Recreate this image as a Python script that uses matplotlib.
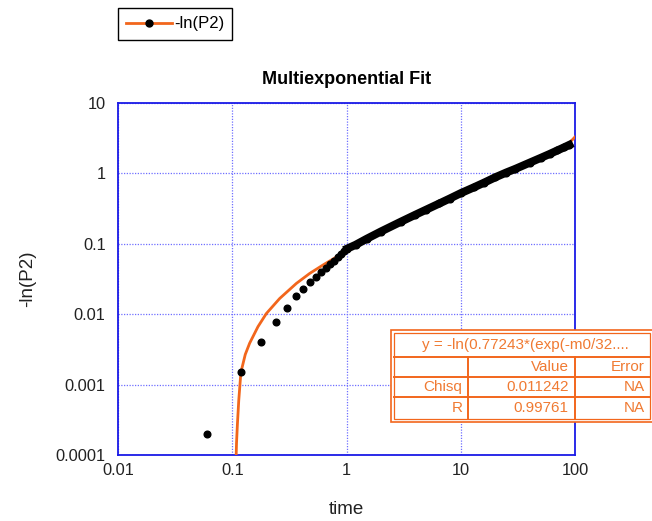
import matplotlib
matplotlib.use("Agg")
import matplotlib.pyplot as plt
from matplotlib.lines import Line2D
from matplotlib.patches import Rectangle

plt.rcParams['font.family'] = ['Liberation Sans', 'DejaVu Sans']

# measured points, sparse start (time step 0.06)
t_sparse = [0.06, 0.12, 0.18, 0.24, 0.30, 0.36, 0.42, 0.48, 0.54, 0.60, 0.66,
            0.72, 0.78, 0.84, 0.90, 0.96]
y_sparse = [0.0002, 0.0015, 0.004, 0.0078, 0.0124, 0.018, 0.023, 0.0284, 0.0337,
            0.040, 0.0458, 0.052, 0.058, 0.065, 0.072, 0.079]

# dense part (points so close they form a band)
t_dense = [1.02, 1.2, 1.5, 2, 3, 4, 5, 6.5, 8, 10, 13, 16, 20, 25, 30, 40, 50,
           60, 70, 80, 89]
y_dense = [0.086, 0.097, 0.118, 0.15, 0.207, 0.259, 0.307, 0.375, 0.44, 0.525,
           0.634, 0.74, 0.88, 1.03, 1.16, 1.42, 1.66, 1.89, 2.12, 2.34, 2.54]

# fitted curve
t_fit = [0.1068, 0.1075, 0.109, 0.111, 0.114, 0.119, 0.13, 0.142, 0.168, 0.199,
         0.26, 0.364, 0.475, 0.62, 0.8, 0.93, 1.02, 1.2, 1.5, 2, 3, 4, 5, 6.5,
         8, 10, 13, 16, 20, 25, 30, 40, 50, 60, 70, 80, 90, 100]
y_fit = [0.00001, 0.00007, 0.00015, 0.00028, 0.0006, 0.0015, 0.0027, 0.0039,
         0.0067, 0.0103, 0.0168, 0.0275, 0.038, 0.050, 0.064, 0.075, 0.085,
         0.097, 0.118, 0.15, 0.207, 0.259, 0.307, 0.375, 0.44, 0.525, 0.634,
         0.74, 0.88, 1.03, 1.16, 1.43, 1.68, 1.93, 2.17, 2.42, 2.75, 3.3]

fit_title = "y = -ln(0.77243*(exp(-m0/32...."
col_heads = ["", "Value", "Error"]
row_names = ["Chisq", "R"]
row_values = ["0.011242", "0.99761"]
row_errors = ["NA", "NA"]

ORANGE = '#f2661c'
TXT_OR = '#f07a32'
BLUE = '#1a1ae6'
W, H = 652, 521

def fx(x):
    return x / W

def fy(y):
    return 1 - y / H

fig = plt.figure(figsize=(W / 100, H / 100), dpi=100)
ax = fig.add_axes([fx(118), fy(455.3), fx(575) - fx(118), fy(103) - fy(455.3)])

ax.plot(t_fit, y_fit, color=ORANGE, lw=2, zorder=3)
ax.plot(t_sparse, y_sparse, 'o', color='black', ms=4.8, zorder=4)
ax.plot(t_dense, y_dense, '-o', color='black', lw=5.8, ms=4.8, zorder=4)

ax.set_xscale('log')
ax.set_yscale('log')
ax.set_xlim(0.01, 100)
ax.set_ylim(0.0001, 10)
ax.set_xticks([0.01, 0.1, 1, 10, 100])
ax.set_xticklabels(["0.01", "0.1", "1", "10", "100"])
ax.set_yticks([0.0001, 0.001, 0.01, 0.1, 1, 10])
ax.set_yticklabels(["0.0001", "0.001", "0.01", "0.1", "1", "10"])
ax.minorticks_off()
ax.tick_params(axis='both', length=0, labelsize=11.8, colors='#222222')
ax.tick_params(axis='x', pad=5.5)
ax.tick_params(axis='y', pad=9)
ax.grid(True, color='#6f6fff', lw=0.9, ls=(0, (1, 1.2)))
for s in ax.spines.values():
    s.set_color(BLUE)
    s.set_linewidth(1.3)

ax.set_title("Multiexponential Fit", fontsize=13, fontweight='bold', pad=14)
ax.set_xlabel("time", fontsize=13.5, color='#222222')
ax.set_ylabel("-ln(P2)", fontsize=13.5, color='#222222')
ax.xaxis.set_label_coords(0.5, -0.13)
ax.yaxis.set_label_coords(-0.18, 0.5)

# legend
h = Line2D([], [], color=ORANGE, lw=2, marker='o', mfc='black', mec='black', ms=5)
leg = fig.legend(handles=[h], labels=["-ln(P2)"], loc='upper left',
                 bbox_to_anchor=(fx(118), fy(8)), fancybox=False, edgecolor='black',
                 framealpha=1, fontsize=12, handlelength=2.75, borderpad=0.5,
                 handletextpad=0.1, borderaxespad=0)
leg.get_frame().set_linewidth(1)

# fit results table
def rect(x0, y0, x1, y1, lw, fill=False):
    fig.add_artist(Rectangle((fx(x0), fy(y1)), fx(x1) - fx(x0), fy(y0) - fy(y1),
                             transform=fig.transFigure, facecolor='white' if fill else 'none',
                             edgecolor=ORANGE, lw=lw, zorder=10))

def hline(y, x0, x1):
    fig.add_artist(Line2D([fx(x0), fx(x1)], [fy(y), fy(y)], transform=fig.transFigure,
                          color=ORANGE, lw=1.4, zorder=11))

def vline(x, y0, y1):
    fig.add_artist(Line2D([fx(x), fx(x)], [fy(y0), fy(y1)], transform=fig.transFigure,
                          color=ORANGE, lw=1.4, zorder=11))

rect(391, 330, 655, 422, 1.2, fill=True)
rect(394.3, 332.7, 649.5, 419, 0.9)
hline(356.7, 394.3, 649.5)
hline(376.7, 394.3, 649.5)
hline(397.3, 394.3, 649.5)
vline(468.3, 356.7, 419)
vline(575, 356.7, 419)

fig.text(fx(525), fy(344.5), fit_title, ha='center', va='center', color=TXT_OR,
         fontsize=11, zorder=12)
row_y = [366.7, 386.7, 408.3]
cols_x = [462.5, 568.5, 645]
for i, t in enumerate(col_heads):
    fig.text(fx(cols_x[i]), fy(row_y[0]), t, ha='right', va='center', color=TXT_OR,
             fontsize=11, zorder=12)
for r in range(len(row_names)):
    for i, t in enumerate([row_names[r], row_values[r], row_errors[r]]):
        fig.text(fx(cols_x[i]), fy(row_y[r + 1]), t, ha='right', va='center',
                 color=TXT_OR, fontsize=11, zorder=12)

fig.savefig("out.png", dpi=100)
